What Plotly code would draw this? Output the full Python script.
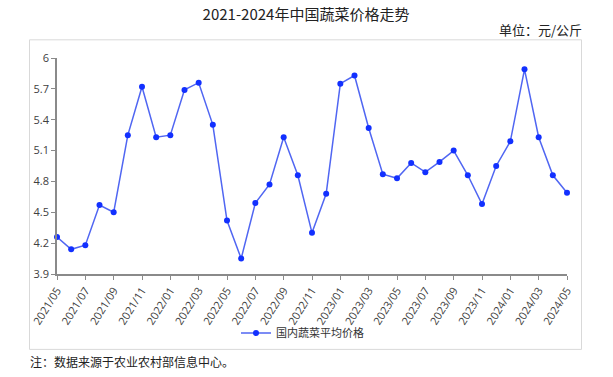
import plotly.graph_objects as go

months = ["2021/05","2021/06","2021/07","2021/08","2021/09","2021/10","2021/11","2021/12",
          "2022/01","2022/02","2022/03","2022/04","2022/05","2022/06","2022/07","2022/08",
          "2022/09","2022/10","2022/11","2022/12","2023/01","2023/02","2023/03","2023/04",
          "2023/05","2023/06","2023/07","2023/08","2023/09","2023/10","2023/11","2023/12",
          "2024/01","2024/02","2024/03","2024/04","2024/05"]
prices = [4.26, 4.14, 4.18, 4.57, 4.50, 5.25, 5.72, 5.23,
          5.25, 5.69, 5.76, 5.35, 4.42, 4.05, 4.59, 4.77,
          5.23, 4.86, 4.30, 4.68, 5.75, 5.83, 5.32, 4.87,
          4.83, 4.98, 4.89, 4.99, 5.10, 4.86, 4.58, 4.95,
          5.19, 5.89, 5.23, 4.86, 4.69]
tick_labels = months[::2]
y_ticks = [3.9, 4.2, 4.5, 4.8, 5.1, 5.4, 5.7, 6]
series_name = "国内蔬菜平均价格"
title_text = "2021-2024年中国蔬菜价格走势"
unit_text = "单位：元/公斤"
note_text = "注：数据来源于农业农村部信息中心。"

W, H = 613, 377
L, R, T, B = 57, 567, 57.7, 274

def px(x):
    return (x - L) / (R - L)

def py(y):
    return (B - y) / (B - T)

fig = go.Figure()
fig.add_trace(go.Scatter(
    x=months, y=prices, mode="lines+markers", name=series_name,
    line=dict(color="#5066f2", width=1.5),
    marker=dict(color="#1230ff", size=6),
    cliponaxis=False,
))

fig.update_layout(
    width=W, height=H,
    margin=dict(l=L, r=W - R, t=T, b=H - B, pad=0),
    paper_bgcolor="white", plot_bgcolor="white",
    font=dict(family="Noto Sans CJK SC, Open Sans, sans-serif", color="#333"),
    title=dict(text=title_text, x=306 / W, xanchor="center", y=1 - 15 / H, yanchor="middle",
               font=dict(size=15, color="#222", family="Noto Sans CJK SC")),
    showlegend=True,
    legend=dict(orientation="h", x=px(236), xanchor="left", y=py(333), yanchor="middle",
                font=dict(size=11, color="#333", family="Noto Sans CJK SC"),
                bgcolor="rgba(0,0,0,0)"),
    xaxis=dict(
        type="category", range=[0, len(months) - 1], automargin=False,
        tickmode="array", tickvals=tick_labels, ticktext=tick_labels,
        tickangle=-58, showline=True, linecolor="#8a8a8a", linewidth=1.5,
        ticks="outside", ticklen=4, tickcolor="#8a8a8a", showgrid=False, zeroline=False,
        tickfont=dict(size=11, color="#404040", family="Open Sans, sans-serif"),
    ),
    yaxis=dict(
        range=[3.9, 6], tickmode="array", tickvals=y_ticks, automargin=False,
        ticktext=[f"{v:g}" for v in y_ticks],
        showline=True, linecolor="#8a8a8a", linewidth=1.5,
        ticks="outside", ticklen=4, tickcolor="#8a8a8a", showgrid=False, zeroline=False,
        tickfont=dict(size=11, color="#404040", family="Open Sans, sans-serif"),
    ),
)

fig.add_shape(type="rect", xref="paper", yref="paper",
              x0=px(29.5), x1=px(581.5), y0=py(349.5), y1=py(39.5),
              line=dict(color="#d9d9d9", width=1), fillcolor="rgba(0,0,0,0)", layer="below")

fig.add_annotation(text=unit_text, xref="paper", yref="paper", x=px(584), y=py(29),
                   xanchor="right", yanchor="middle", showarrow=False,
                   font=dict(size=13, color="#222", family="Noto Sans CJK SC"))
fig.add_annotation(text=note_text, xref="paper", yref="paper", x=px(28), y=py(362),
                   xanchor="left", yanchor="middle", showarrow=False,
                   font=dict(size=12, color="#222", family="Noto Sans CJK SC"))

fig.write_html("out.html", config={"displayModeBar": False},
               post_script="document.body.style.margin='0';document.body.style.overflow='hidden';")
